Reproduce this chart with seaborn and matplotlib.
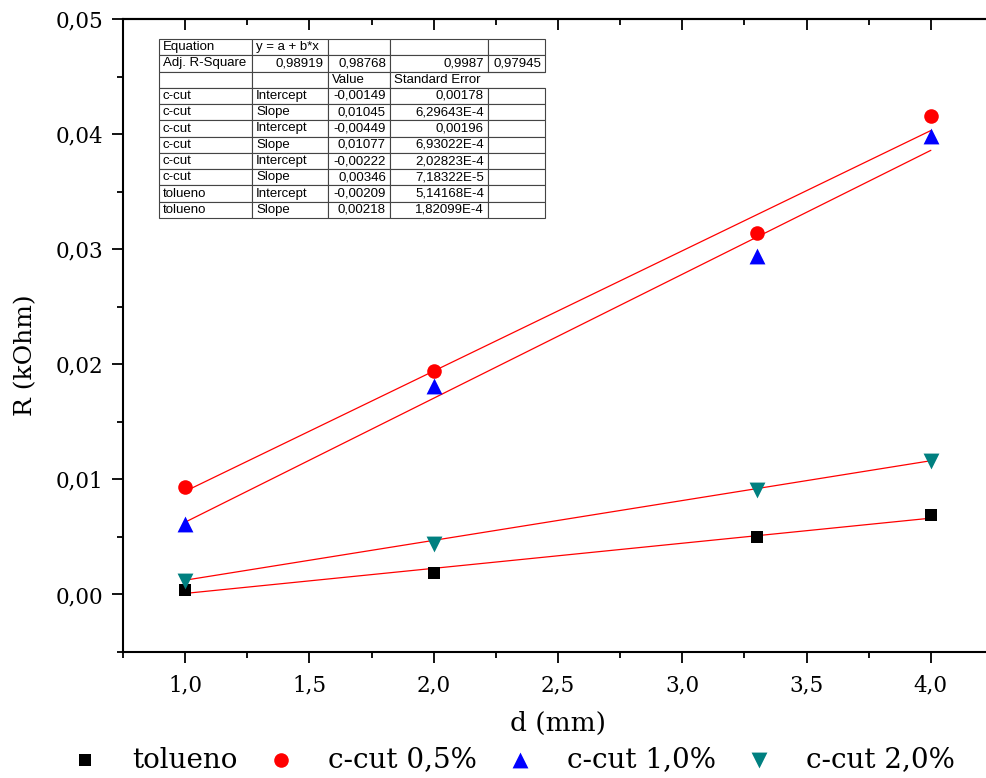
import numpy as np
import pandas as pd
import matplotlib
matplotlib.use("Agg")
import matplotlib.pyplot as plt
import seaborn as sns
from matplotlib.ticker import MultipleLocator, FuncFormatter
from matplotlib.table import Table

# ---------------- data ----------------
d_mm = [1.0, 2.0, 3.3, 4.0]
r_tolueno = [0.0004, 0.0019, 0.0050, 0.0069]
r_ccut05 = [0.0093, 0.0194, 0.0314, 0.0416]
r_ccut10 = [0.0061, 0.0181, 0.0294, 0.0398]
r_ccut20 = [0.0012, 0.0044, 0.0091, 0.0116]
series_names = ["tolueno", "c-cut 0,5%", "c-cut 1,0%", "c-cut 2,0%"]

# linear fits (from the fit table): tolueno, c-cut 0,5%, c-cut 1,0%, c-cut 2,0%
fit_intercepts = [-0.00209, -0.00149, -0.00449, -0.00222]
fit_slopes = [0.00218, 0.01045, 0.01077, 0.00346]
fit_x_range = [1.0, 4.0]

x_ticks = [1.0, 1.5, 2.0, 2.5, 3.0, 3.5, 4.0]
y_ticks = [0.00, 0.01, 0.02, 0.03, 0.04, 0.05]

table_header = [
    ["Equation", "y = a + b*x", "", "", ""],
    ["Adj. R-Square", "0,98919", "0,98768", "0,9987", "0,97945"],
    ["", "", "Value", "Standard Error", ""],
]
table_series = ["c-cut", "c-cut", "c-cut", "c-cut", "c-cut", "c-cut", "tolueno", "tolueno"]
table_param = ["Intercept", "Slope", "Intercept", "Slope", "Intercept", "Slope", "Intercept", "Slope"]
table_value = ["-0,00149", "0,01045", "-0,00449", "0,01077", "-0,00222", "0,00346", "-0,00209", "0,00218"]
table_stderr = ["0,00178", "6,29643E-4", "0,00196", "6,93022E-4", "2,02823E-4", "7,18322E-5",
                "5,14168E-4", "1,82099E-4"]

# ---------------- style ----------------
sns.set_style("ticks")
plt.rcParams["font.family"] = ["DejaVu Serif"]
plt.rcParams["text.color"] = "black"
plt.rcParams["axes.labelcolor"] = "black"
plt.rcParams["xtick.color"] = "black"
plt.rcParams["ytick.color"] = "black"
plt.rcParams["axes.edgecolor"] = "black"

W, H = 987, 778
fig = plt.figure(figsize=(W / 100, H / 100), dpi=100)
ax_l, ax_r, ax_t, ax_b = 123, 993, 19, 652
ax = fig.add_axes([ax_l / W, 1 - ax_b / H, (ax_r - ax_l) / W, (ax_b - ax_t) / H])

colors = ["#000000", "#ff0000", "#0000ff", "#008080"]
markers = ["s", "o", "^", "v"]
sizes = [80, 110, 130, 130]
ys = [r_tolueno, r_ccut05, r_ccut10, r_ccut20]

# fit lines
for b0, b1 in zip(fit_intercepts, fit_slopes):
    fx = np.array(fit_x_range)
    fdf = pd.DataFrame({"x": fx, "y": b0 + b1 * fx})
    sns.lineplot(data=fdf, x="x", y="y", ax=ax, color="#ff0000", linewidth=0.9, zorder=2)

handles = []
for name, yv, c, m, s in zip(series_names, ys, colors, markers, sizes):
    df = pd.DataFrame({"d": d_mm, "R": yv})
    sns.scatterplot(data=df, x="d", y="R", ax=ax, color=c, marker=m, s=s,
                    linewidth=0, zorder=3, legend=False)
    h = ax.collections[-1]
    h.set_label(name)
    handles.append(h)

ax.set_xlim(0.75, 4.25)
ax.set_ylim(-0.005, 0.05)
ax.xaxis.set_major_locator(MultipleLocator(0.5))
ax.xaxis.set_minor_locator(MultipleLocator(0.25))
ax.yaxis.set_major_locator(MultipleLocator(0.01))
ax.yaxis.set_minor_locator(MultipleLocator(0.005))
ax.xaxis.set_major_formatter(FuncFormatter(lambda v, p: f"{v:.1f}".replace(".", ",")))
ax.yaxis.set_major_formatter(FuncFormatter(lambda v, p: f"{v:.2f}".replace(".", ",")))
ax.tick_params(which="major", direction="out", length=8, width=1.3, labelsize=15.5)
ax.tick_params(which="minor", direction="out", length=4, width=1.3)
ax.tick_params(axis="x", which="major", pad=8)
ax.tick_params(axis="y", which="major", pad=6)
ax.tick_params(axis="x", which="both", top=False)
ax.tick_params(axis="y", which="both", right=False)

sec = ax.secondary_xaxis("top")
sec.xaxis.set_major_locator(MultipleLocator(0.5))
sec.xaxis.set_minor_locator(MultipleLocator(0.25))
sec.tick_params(which="major", direction="in", length=8, width=1.3, labeltop=False)
sec.tick_params(which="minor", direction="in", length=4, width=1.3)
sec.spines["top"].set_linewidth(1.5)

for sp in ["left", "bottom", "top"]:
    ax.spines[sp].set_linewidth(1.5)
ax.spines["right"].set_visible(False)

ax.set_xlabel("d (mm)", fontsize=19)
ax.xaxis.set_label_coords(0.5, -(720 + 16 - ax_b) / (ax_b - ax_t))
ax.xaxis.label.set_va("bottom")
ax.set_ylabel("R (kOhm)", fontsize=18)
ax.yaxis.set_label_coords((37 - ax_l) / (ax_r - ax_l), (ax_b - 355) / (ax_b - ax_t))

# ---------------- fit table ----------------
col_w = [93, 76, 62, 98, 57]
tx0 = (159 - ax_l) / (ax_r - ax_l)
tx1 = (545 - ax_l) / (ax_r - ax_l)
ty1 = (ax_b - 39) / (ax_b - ax_t)
ty0 = (ax_b - 218) / (ax_b - ax_t)
tbl = Table(ax, bbox=[tx0, ty0, tx1 - tx0, ty1 - ty0])
rows = [r for r in table_header]
for s_, p_, v_, e_ in zip(table_series, table_param, table_value, table_stderr):
    rows.append([s_, p_, v_, e_, ""])
for i, row in enumerate(rows):
    for j, txt in enumerate(row):
        if i == 0:
            loc = "left"
        elif i == 1:
            loc = "left" if j == 0 else "right"
        elif i == 2:
            loc = "left"
        else:
            loc = "left" if j < 2 else ("right" if j < 4 else "left")
        cell = tbl.add_cell(i, j, width=col_w[j], height=1, text=txt, loc=loc,
                            edgecolor="#444444", facecolor="white")
        cell.PAD = 4.0 / col_w[j]
        cell.set_linewidth(0.8)
        cell.get_text().set_fontfamily(["Liberation Sans", "DejaVu Sans"])
        cell.get_text().set_fontsize(9.5)
        cell.get_text().set_color("black")
        if i == 2 and j == 3:
            cell.visible_edges = "BTL"
        if i == 2 and j == 4:
            cell.visible_edges = "BT"
tbl.auto_set_font_size(False)
ax.add_table(tbl)

# ---------------- legend ----------------
leg = fig.legend(handles=handles, labels=series_names, loc="center",
                 bbox_to_anchor=(513 / W, 1 - 760 / H), ncol=4, frameon=False,
                 fontsize=20, handlelength=1.0, handletextpad=1.2, columnspacing=1.05,
                 markerscale=1.0, borderaxespad=0)

fig.savefig("out.png", dpi=100)
